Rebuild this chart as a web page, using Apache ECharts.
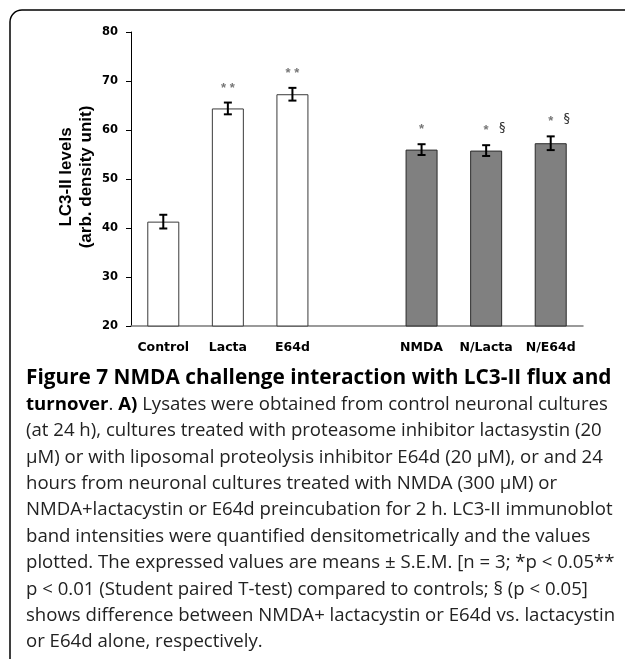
<!DOCTYPE html>
<html><head><meta charset="utf-8">
<script src="https://cdn.jsdelivr.net/npm/echarts@6/dist/echarts.min.js"></script>
<style>html,body{margin:0;padding:0;background:#fff}#c{width:625px;height:659px}</style>
</head><body><div id="c"></div>
<script>
var categories = ['Control', 'Lacta', 'E64d', '', 'NMDA', 'N/Lacta', 'N/E64d'];
var values = [41.3, 64.4, 67.3, null, 56.0, 55.8, 57.3];
var errors = [1.4, 1.2, 1.3, null, 1.1, 1.1, 1.4];
var stars = ['', '* *', '* *', '', '*', '*', '*'];
var sects = ['', '', '', '', '', '§', '§'];
var groupNmda = [false, false, false, false, true, true, true];
var yTicks = [20, 30, 40, 50, 60, 70, 80];

var chart = echarts.init(document.getElementById('c'), null, {renderer: 'canvas'});
var barData = values.map(function (v, i) {
  if (v == null) return {value: null};
  return {
    value: v,
    itemStyle: groupNmda[i]
      ? {color: '#808080', borderColor: '#2a2a2a', borderWidth: 1}
      : {color: '#ffffff', borderColor: '#3a3a3a', borderWidth: 1}
  };
});
var errData = values.map(function (v, i) { return [i, v, errors[i]]; }).filter(function (d) { return d[1] != null; });

var captionRich = {
  t: {fontFamily: 'Open Sans', fontWeight: 'bold', fontSize: 20.8, lineHeight: 26.4, fill: '#000'},
  b: {fontFamily: 'Open Sans', fontWeight: 'bold', fontSize: 18.6, lineHeight: 26.4, fill: '#000'},
  n: {fontFamily: 'Open Sans', fontSize: 18.6, lineHeight: 26.4, fill: '#222'}
};
var captionText =
  '{t|Figure 7 NMDA challenge interaction with LC3-II flux and}\n' +
  '{b|turnover}{n|. }{b|A)}{n| Lysates were obtained from control neuronal cultures}\n' +
  '{n|(at 24 h), cultures treated with proteasome inhibitor lactasystin (20}\n' +
  '{n|µM) or with liposomal proteolysis inhibitor E64d (20 µM), or and 24}\n' +
  '{n|hours from neuronal cultures treated with NMDA (300 µM) or}\n' +
  '{n|NMDA+lactacystin or E64d preincubation for 2 h. LC3-II immunoblot}\n' +
  '{n|band intensities were quantified densitometrically and the values}\n' +
  '{n|plotted. The expressed values are means ± S.E.M. [n = 3; *p < 0.05**}\n' +
  '{n|p < 0.01 (Student paired T-test) compared to controls; § (p < 0.05]}\n' +
  '{n|shows difference between NMDA+ lactacystin or E64d vs. lactacystin}\n' +
  '{n|or E64d alone, respectively.}';

chart.setOption({
  animation: false,
  backgroundColor: '#fff',
  grid: {left: 131, top: 32, width: 452, height: 294, containLabel: false},
  xAxis: {
    type: 'category', data: categories,
    axisLine: {lineStyle: {color: '#7a7a7a', width: 1.5}},
    axisTick: {show: false},
    axisLabel: {color: '#000', fontFamily: 'DejaVu Sans', fontWeight: 'bold', fontSize: 12.5, margin: 15, interval: 0}
  },
  yAxis: {
    type: 'value', min: 20, max: 80, interval: 10,
    axisLine: {show: true, lineStyle: {color: '#000', width: 1}},
    axisTick: {show: true, length: 5, lineStyle: {color: '#000'}},
    splitLine: {show: false},
    axisLabel: {color: '#000', fontFamily: 'DejaVu Sans', fontWeight: 'bold', fontSize: 11.5, margin: 13,
      formatter: function (v) { return yTicks.indexOf(v) >= 0 ? String(v) : ''; }}
  },
  series: [
    {type: 'bar', data: barData, barWidth: 32, silent: true},
    {
      type: 'custom', data: errData, z: 5, silent: true,
      renderItem: function (params, api) {
        var x = api.value(0), v = api.value(1), e = api.value(2);
        var top = api.coord([x, v + e]);
        var bot = api.coord([x, v - e]);
        var hw = 4;
        var style = {stroke: '#000', lineWidth: 2};
        var children = [
          {type: 'line', shape: {x1: top[0], y1: top[1], x2: bot[0], y2: bot[1]}, style: style},
          {type: 'line', shape: {x1: top[0] - hw, y1: top[1], x2: top[0] + hw, y2: top[1]}, style: style},
          {type: 'line', shape: {x1: bot[0] - hw, y1: bot[1], x2: bot[0] + hw, y2: bot[1]}, style: style}
        ];
        var s = stars[x];
        if (s) {
          children.push({type: 'text', style: {text: s, x: top[0], y: top[1] - 8, align: 'center', verticalAlign: 'bottom',
            fill: '#777', font: 'bold 13px "Liberation Sans", Arial'}});
        }
        var g = sects[x];
        if (g) {
          children.push({type: 'text', style: {text: g, x: top[0] + 16, y: top[1] - 11, align: 'center', verticalAlign: 'bottom',
            fill: '#333', font: '13px "DejaVu Sans"'}});
        }
        return {type: 'group', children: children};
      }
    }
  ],
  graphic: [
    {type: 'rect', shape: {x: 10, y: 10, width: 700, height: 700, r: 12}, style: {fill: 'none', stroke: '#000', lineWidth: 1.5}, z: 0},
    {type: 'text', x: 76, y: 177, rotation: Math.PI / 2,
      style: {text: 'LC3-II levels\n(arb. density unit)', align: 'center', verticalAlign: 'middle', lineHeight: 20,
        fill: '#000', font: 'bold 17px "Liberation Sans", Arial'}},
    {type: 'text', x: 26, y: 365, style: {text: captionText, rich: captionRich}}
  ]
});
</script></body></html>
